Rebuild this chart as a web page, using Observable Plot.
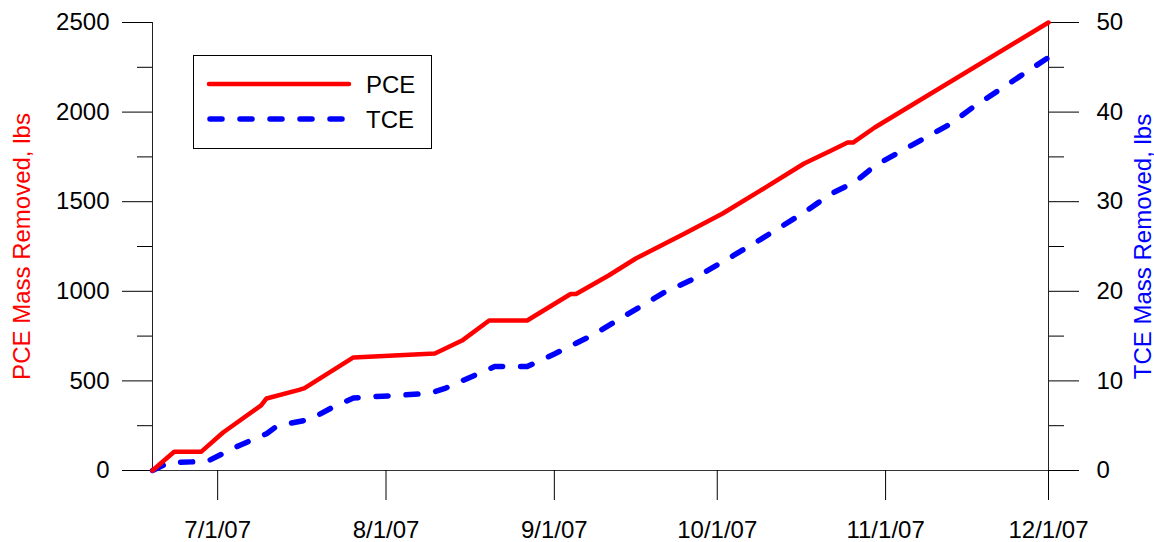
<!DOCTYPE html>
<html>
<head>
<meta charset="utf-8">
<script src="https://cdn.jsdelivr.net/npm/d3@7"></script>
<script src="https://cdn.jsdelivr.net/npm/@observablehq/plot@0.6"></script>
<style>
  html, body { margin: 0; padding: 0; background: #fff; }
  #chart { position: relative; width: 1154px; height: 542px; }
</style>
</head>
<body>
<div id="chart"></div>
<script>
// ---- data ----
const pceDates = ["2007-06-19","2007-06-23","2007-06-28","2007-07-02","2007-07-09","2007-07-10","2007-07-16","2007-07-17","2007-07-26","2007-08-10","2007-08-15","2007-08-20","2007-08-27","2007-09-04","2007-09-05","2007-09-11","2007-09-16","2007-09-25","2007-10-02","2007-10-09","2007-10-17","2007-10-22","2007-10-25","2007-10-26","2007-10-30","2007-12-01"];
const pceValues = [0,105,105,212,363,402,450,460,631,653,725,837,837,985,985,1088,1183,1322,1434,1563,1713,1786,1830,1830,1914,2500];

const tceDates = ["2007-06-19","2007-06-22","2007-06-29","2007-07-05","2007-07-10","2007-07-12","2007-07-18","2007-07-22","2007-07-26","2007-08-09","2007-08-12","2007-08-18","2007-08-21","2007-08-27","2007-09-01","2007-09-04","2007-09-05","2007-09-08","2007-09-13","2007-09-21","2007-09-26","2007-10-04","2007-10-09","2007-10-17","2007-10-22","2007-10-25","2007-10-26","2007-10-30","2007-11-04","2007-11-13","2007-11-17","2007-11-26","2007-12-01"];
const tceValues = [0,0.9,1.0,2.8,4.1,5.0,5.7,7.0,8.1,8.6,9.2,10.8,11.6,11.6,13.0,13.9,14.2,15.1,16.9,19.8,21.2,24.0,25.8,28.8,30.9,31.8,32.0,34.0,35.7,38.7,40.5,44.1,46.1];

const leftMajorTicks = [0, 500, 1000, 1500, 2000, 2500];
const leftMinorTicks = [250, 750, 1250, 1750, 2250];
const rightMajorTicks = [0, 10, 20, 30, 40, 50];
const rightMinorTicks = [5, 15, 25, 35, 45];
const xTickDates = ["2007-07-01","2007-08-01","2007-09-01","2007-10-01","2007-11-01","2007-12-01"];
const xDomain = ["2007-06-19", "2007-12-01"];
const leftDomain = [0, 2500];
const rightDomain = [0, 50];
const seriesNames = ["PCE", "TCE"];
const leftTitle = "PCE Mass Removed, lbs";
const rightTitle = "TCE Mass Removed, lbs";

// ---- build ----
const ratio = leftDomain[1] / rightDomain[1];
const pce = pceDates.map((d, i) => ({date: new Date(d), value: pceValues[i]}));
const tce = tceDates.map((d, i) => ({date: new Date(d), value: tceValues[i]}));
const font = "'Liberation Sans', Arial, Helvetica, sans-serif";

const chart = Plot.plot({
  width: 1154,
  height: 542,
  marginLeft: 152,
  marginRight: 106,
  marginTop: 22,
  marginBottom: 72,
  style: {fontFamily: font, fontSize: "24px", color: "#000", background: "#fff", overflow: "visible"},
  x: {type: "utc", domain: xDomain.map(d => new Date(d))},
  y: {domain: leftDomain},
  marks: [
    Plot.ruleY([0], {stroke: "#333", strokeWidth: 1}),
    Plot.ruleX(xDomain.map(d => new Date(d)), {stroke: "#222", strokeWidth: 1}),
    Plot.axisY({anchor: "left", ticks: leftMajorTicks, tickFormat: d => String(d), tickSize: 30, tickPadding: 13, label: null, fontSize: 24}),
    Plot.axisY({anchor: "left", ticks: leftMinorTicks, tickSize: 15, tickFormat: () => "", label: null}),
    Plot.axisY({anchor: "right", ticks: rightMajorTicks.map(v => v * ratio), tickFormat: d => String(d / ratio), tickSize: 30, tickPadding: 18, label: null, fontSize: 24}),
    Plot.axisY({anchor: "right", ticks: rightMinorTicks.map(v => v * ratio), tickSize: 15, tickFormat: () => "", label: null}),
    Plot.axisX({ticks: xTickDates.map(d => new Date(d)), tickFormat: d3.utcFormat("%-m/%-d/%y"), tickSize: 30, tickPadding: 20, label: null, fontSize: 24}),
    Plot.line(tce, {x: "date", y: d => d.value * ratio, stroke: "#0000ff", strokeWidth: 5.5, strokeDasharray: "12,18", strokeLinecap: "round", strokeLinejoin: "round"}),
    Plot.line(pce, {x: "date", y: "value", stroke: "#ff0000", strokeWidth: 4.5, strokeLinecap: "round", strokeLinejoin: "round"}),
    Plot.text([leftTitle], {frameAnchor: "left", rotate: -90, dx: -130, fill: "#ff0000", fontSize: 24, textAnchor: "middle", lineAnchor: "middle"}),
    Plot.text([rightTitle], {frameAnchor: "right", rotate: -90, dx: 95, fill: "#0000ff", fontSize: 24, textAnchor: "middle", lineAnchor: "middle"})
  ]
});

// ---- legend (inside plot area) ----
const svg = d3.select(chart);
const lg = svg.append("g").attr("font-family", font).attr("font-size", 24).attr("text-anchor", "start");
lg.append("rect").attr("x", 193.5).attr("y", 55.5).attr("width", 238).attr("height", 93)
  .attr("fill", "#fff").attr("stroke", "#000").attr("stroke-width", 1);
const legendItems = [
  {name: seriesNames[0], color: "#ff0000", width: 4.5, dash: null, y: 84},
  {name: seriesNames[1], color: "#0000ff", width: 5.5, dash: "12,18", y: 119}
];
legendItems.forEach(it => {
  const l = lg.append("line").attr("x1", 209).attr("x2", 349).attr("y1", it.y).attr("y2", it.y)
    .attr("stroke", it.color).attr("stroke-width", it.width).attr("stroke-linecap", "round");
  if (it.dash) l.attr("stroke-dasharray", it.dash).attr("x1", 210);
  lg.append("text").attr("x", 366).attr("y", it.y).attr("dy", "0.36em")
    .attr("text-anchor", "start").attr("fill", "#000").text(it.name);
});

document.getElementById("chart").appendChild(chart);
</script>
</body>
</html>
